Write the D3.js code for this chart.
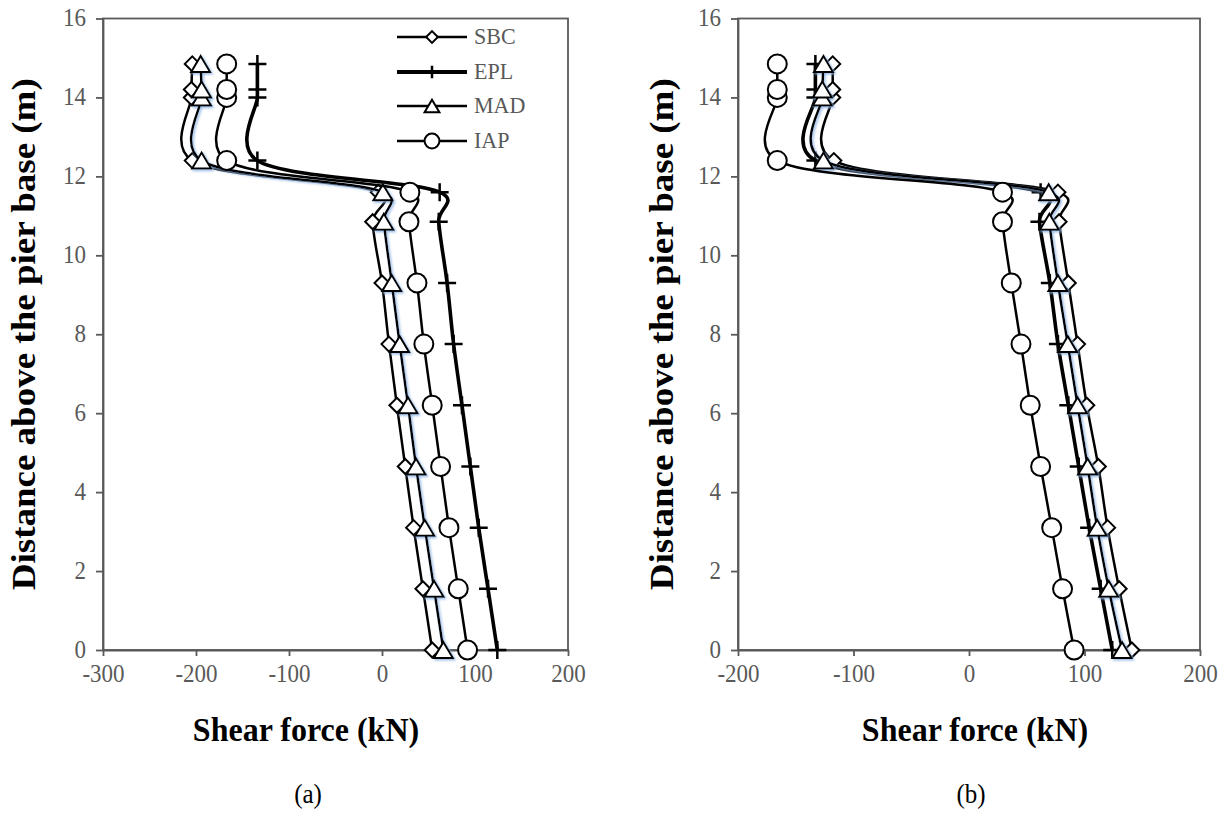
<!DOCTYPE html>
<html>
<head>
<meta charset="utf-8">
<script src="https://cdn.jsdelivr.net/npm/d3@7"></script>
<style>
  body { margin: 0; background: #fff; }
  svg { display: block; }
</style>
</head>
<body>
<div id="chart"></div>
<script>
// heights of the output stations (m)
const heights = [0, 1.55, 3.1, 4.65, 6.2, 7.75, 9.3, 10.85, 11.6, 12.4, 14.0, 14.2, 14.85];

// panel (a) shear force (kN)
const sbcA = [54, 44, 34, 25, 16, 7.5, 0, -10, -4, -204, -205, -205, -204];
const eplA = [124, 114, 104, 95, 86, 77, 70, 61, 62, -134, -134, -134, -134];
const madA = [66, 56, 46, 36.6, 28, 19, 10.5, 2, 1, -194, -194, -194, -195];
const iapA = [92, 82, 72, 63, 54, 45, 37.6, 29, 30, -167, -167, -167, -167];

// panel (b) shear force (kN)
const sbcB = [141, 130, 120, 112, 102, 94, 86, 78, 77, -117, -118, -118, -118];
const eplB = [124, 114, 104, 95, 86, 77, 70, 61, 62, -133, -133, -133, -133];
const madB = [132.5, 121, 111, 102.7, 94, 85.5, 77, 69.6, 69, -126, -127, -127, -126];
const iapB = [91, 81, 71.6, 62, 53, 45, 36.6, 29, 29, -166, -166, -166, -166];

const seriesNames = ["SBC", "EPL", "MAD", "IAP"];
const xTicksA = [-300, -200, -100, 0, 100, 200];
const xTicksB = [-200, -100, 0, 100, 200];
const yTicks = [0, 2, 4, 6, 8, 10, 12, 14, 16];

const xTitle = "Shear force (kN)";
const yTitle = "Distance above the pier base (m)";

const W = 1227, H = 822;
const serif = "'Liberation Serif', 'Times New Roman', serif";
const grey = "#595959";
const sy = 1.06; // the original figure is a little stretched vertically

const svg = d3.select("#chart").append("svg")
    .attr("width", W)
    .attr("height", H);

svg.append("rect").attr("width", W).attr("height", H).attr("fill", "#fff");

// light blue shadow that sits under the MAD series
const defs = svg.append("defs");
defs.append("filter")
    .attr("id", "blueShadow")
    .attr("x", "-20%").attr("y", "-20%").attr("width", "140%").attr("height", "140%")
  .append("feDropShadow")
    .attr("dx", 1.5).attr("dy", 1.5).attr("stdDeviation", 0.8)
    .attr("flood-color", "#8fb4e3").attr("flood-opacity", 0.9);

// style per series
const style = {
    SBC: { marker: "diamond", width: 2.5 },
    EPL: { marker: "cross", width: 3.6 },
    MAD: { marker: "triangle", width: 2.5 },
    IAP: { marker: "circle", width: 2.5 }
};

function drawMarker(g, type, cx, cy, k) {
    const s = k || 1;
    if (type === "diamond") {
        const r = 7.5 * s;
        g.append("path")
            .attr("d", `M${cx},${cy - r}L${cx + r},${cy}L${cx},${cy + r}L${cx - r},${cy}Z`)
            .attr("fill", "#fff").attr("stroke", "#000").attr("stroke-width", 2);
    } else if (type === "triangle") {
        const hw = 9.5 * s, hh = 8 * s;
        g.append("path")
            .attr("d", `M${cx},${cy - hh}L${cx + hw},${cy + hh}L${cx - hw},${cy + hh}Z`)
            .attr("fill", "#fff").attr("stroke", "#000").attr("stroke-width", 2);
    } else if (type === "circle") {
        g.append("circle")
            .attr("cx", cx).attr("cy", cy).attr("r", 9.5 * s)
            .attr("fill", "#fff").attr("stroke", "#000").attr("stroke-width", 2);
    } else if (type === "cross") {
        const r = 9 * s;
        g.append("path")
            .attr("d", `M${cx - r},${cy}L${cx + r},${cy}M${cx},${cy - r}L${cx},${cy + r}`)
            .attr("fill", "none").attr("stroke", "#000").attr("stroke-width", 2.5);
    }
}

function drawPanel(opt) {
    const x = d3.scaleLinear().domain(opt.xDomain).range(opt.xRange);
    const y = d3.scaleLinear().domain([0, 16]).range([650, 18.5]);

    const g = svg.append("g");

    // plot area frame
    g.append("rect")
        .attr("x", x.range()[0]).attr("y", y(16))
        .attr("width", x.range()[1] - x.range()[0])
        .attr("height", y(0) - y(16))
        .attr("fill", "none").attr("stroke", grey).attr("stroke-width", 1.8);

    // Y axis
    const yAxis = g.append("g")
        .attr("transform", "translate(" + x.range()[0] + ",0)")
        .call(d3.axisLeft(y).tickValues(yTicks).tickFormat(d => String(d))
            .tickSize(7).tickSizeOuter(0).tickPadding(10));
    // X axis
    const xAxis = g.append("g")
        .attr("transform", "translate(0," + y(0) + ")")
        .call(d3.axisBottom(x).tickValues(opt.xTicks).tickFormat(d => String(d))
            .tickSize(6).tickSizeOuter(0));

    [yAxis, xAxis].forEach(ax => {
        ax.select(".domain").attr("stroke", grey).attr("stroke-width", 1.8);
        ax.selectAll(".tick line").attr("stroke", grey).attr("stroke-width", 1.8);
        ax.selectAll("text")
            .attr("fill", grey)
            .attr("font-family", serif)
            .attr("font-size", 23);
    });
    yAxis.selectAll("text").attr("dy", "0.3em").attr("transform", `scale(1,${sy})`);
    xAxis.selectAll("text").attr("y", 14).attr("dy", "0.71em").attr("transform", `scale(1,${sy})`);

    // series, smoothed like the spreadsheet lines
    const line = d3.line()
        .x(d => x(d[0]))
        .y(d => y(d[1]))
        .curve(d3.curveCatmullRom.alpha(0.15));

    opt.series.forEach((vals, i) => {
        const name = seriesNames[i];
        const st = style[name];
        const pts = vals.map((v, j) => [v, heights[j]]);
        const sg = g.append("g");
        if (name === "MAD") sg.attr("filter", "url(#blueShadow)");
        sg.append("path")
            .datum(pts)
            .attr("fill", "none")
            .attr("stroke", "#000")
            .attr("stroke-width", st.width)
            .attr("d", line);
        pts.forEach(p => drawMarker(sg, st.marker, x(p[0]), y(p[1])));
    });

    // titles
    svg.append("text")
        .attr("transform", `translate(${opt.xTitleX},741) scale(1,${sy})`)
        .attr("text-anchor", "middle")
        .attr("font-family", serif).attr("font-weight", "bold").attr("font-size", 32)
        .text(xTitle);

    svg.append("text")
        .attr("transform", `translate(${opt.yTitleX},${(y(0) + y(16)) / 2}) rotate(-90)`)
        .attr("text-anchor", "middle")
        .attr("font-family", serif).attr("font-weight", "bold").attr("font-size", 33)
        .attr("textLength", 512).attr("lengthAdjust", "spacingAndGlyphs")
        .text(yTitle);

    svg.append("text")
        .attr("transform", `translate(${opt.captionX},803) scale(1,${sy})`)
        .attr("text-anchor", "middle")
        .attr("font-family", serif).attr("font-size", 25)
        .text(opt.caption);

    return g;
}

const panelA = drawPanel({
    xDomain: [-300, 200], xRange: [103, 568], xTicks: xTicksA,
    series: [sbcA, eplA, madA, iapA],
    xTitleX: 306, yTitleX: 35, captionX: 308, caption: "(a)"
});

drawPanel({
    xDomain: [-200, 200], xRange: [738, 1200], xTicks: xTicksB,
    series: [sbcB, eplB, madB, iapB],
    xTitleX: 975, yTitleX: 673, captionX: 971, caption: "(b)"
});

// legend (panel a)
const legend = panelA.append("g");
const legendRows = [37, 72, 106, 141];
seriesNames.forEach((name, i) => {
    const st = style[name];
    const ly = legendRows[i];
    legend.append("line")
        .attr("x1", 397).attr("x2", 467).attr("y1", ly).attr("y2", ly)
        .attr("stroke", "#000").attr("stroke-width", name === "EPL" ? 4 : 2.5);
    drawMarker(legend, st.marker, 432, ly, name === "EPL" ? 0.7 : 0.78);
    legend.append("text")
        .attr("transform", `translate(474,${ly + 7}) scale(1,${sy})`)
        .attr("font-family", serif).attr("font-size", 22).attr("fill", grey)
        .text(name);
});
</script>
</body>
</html>
